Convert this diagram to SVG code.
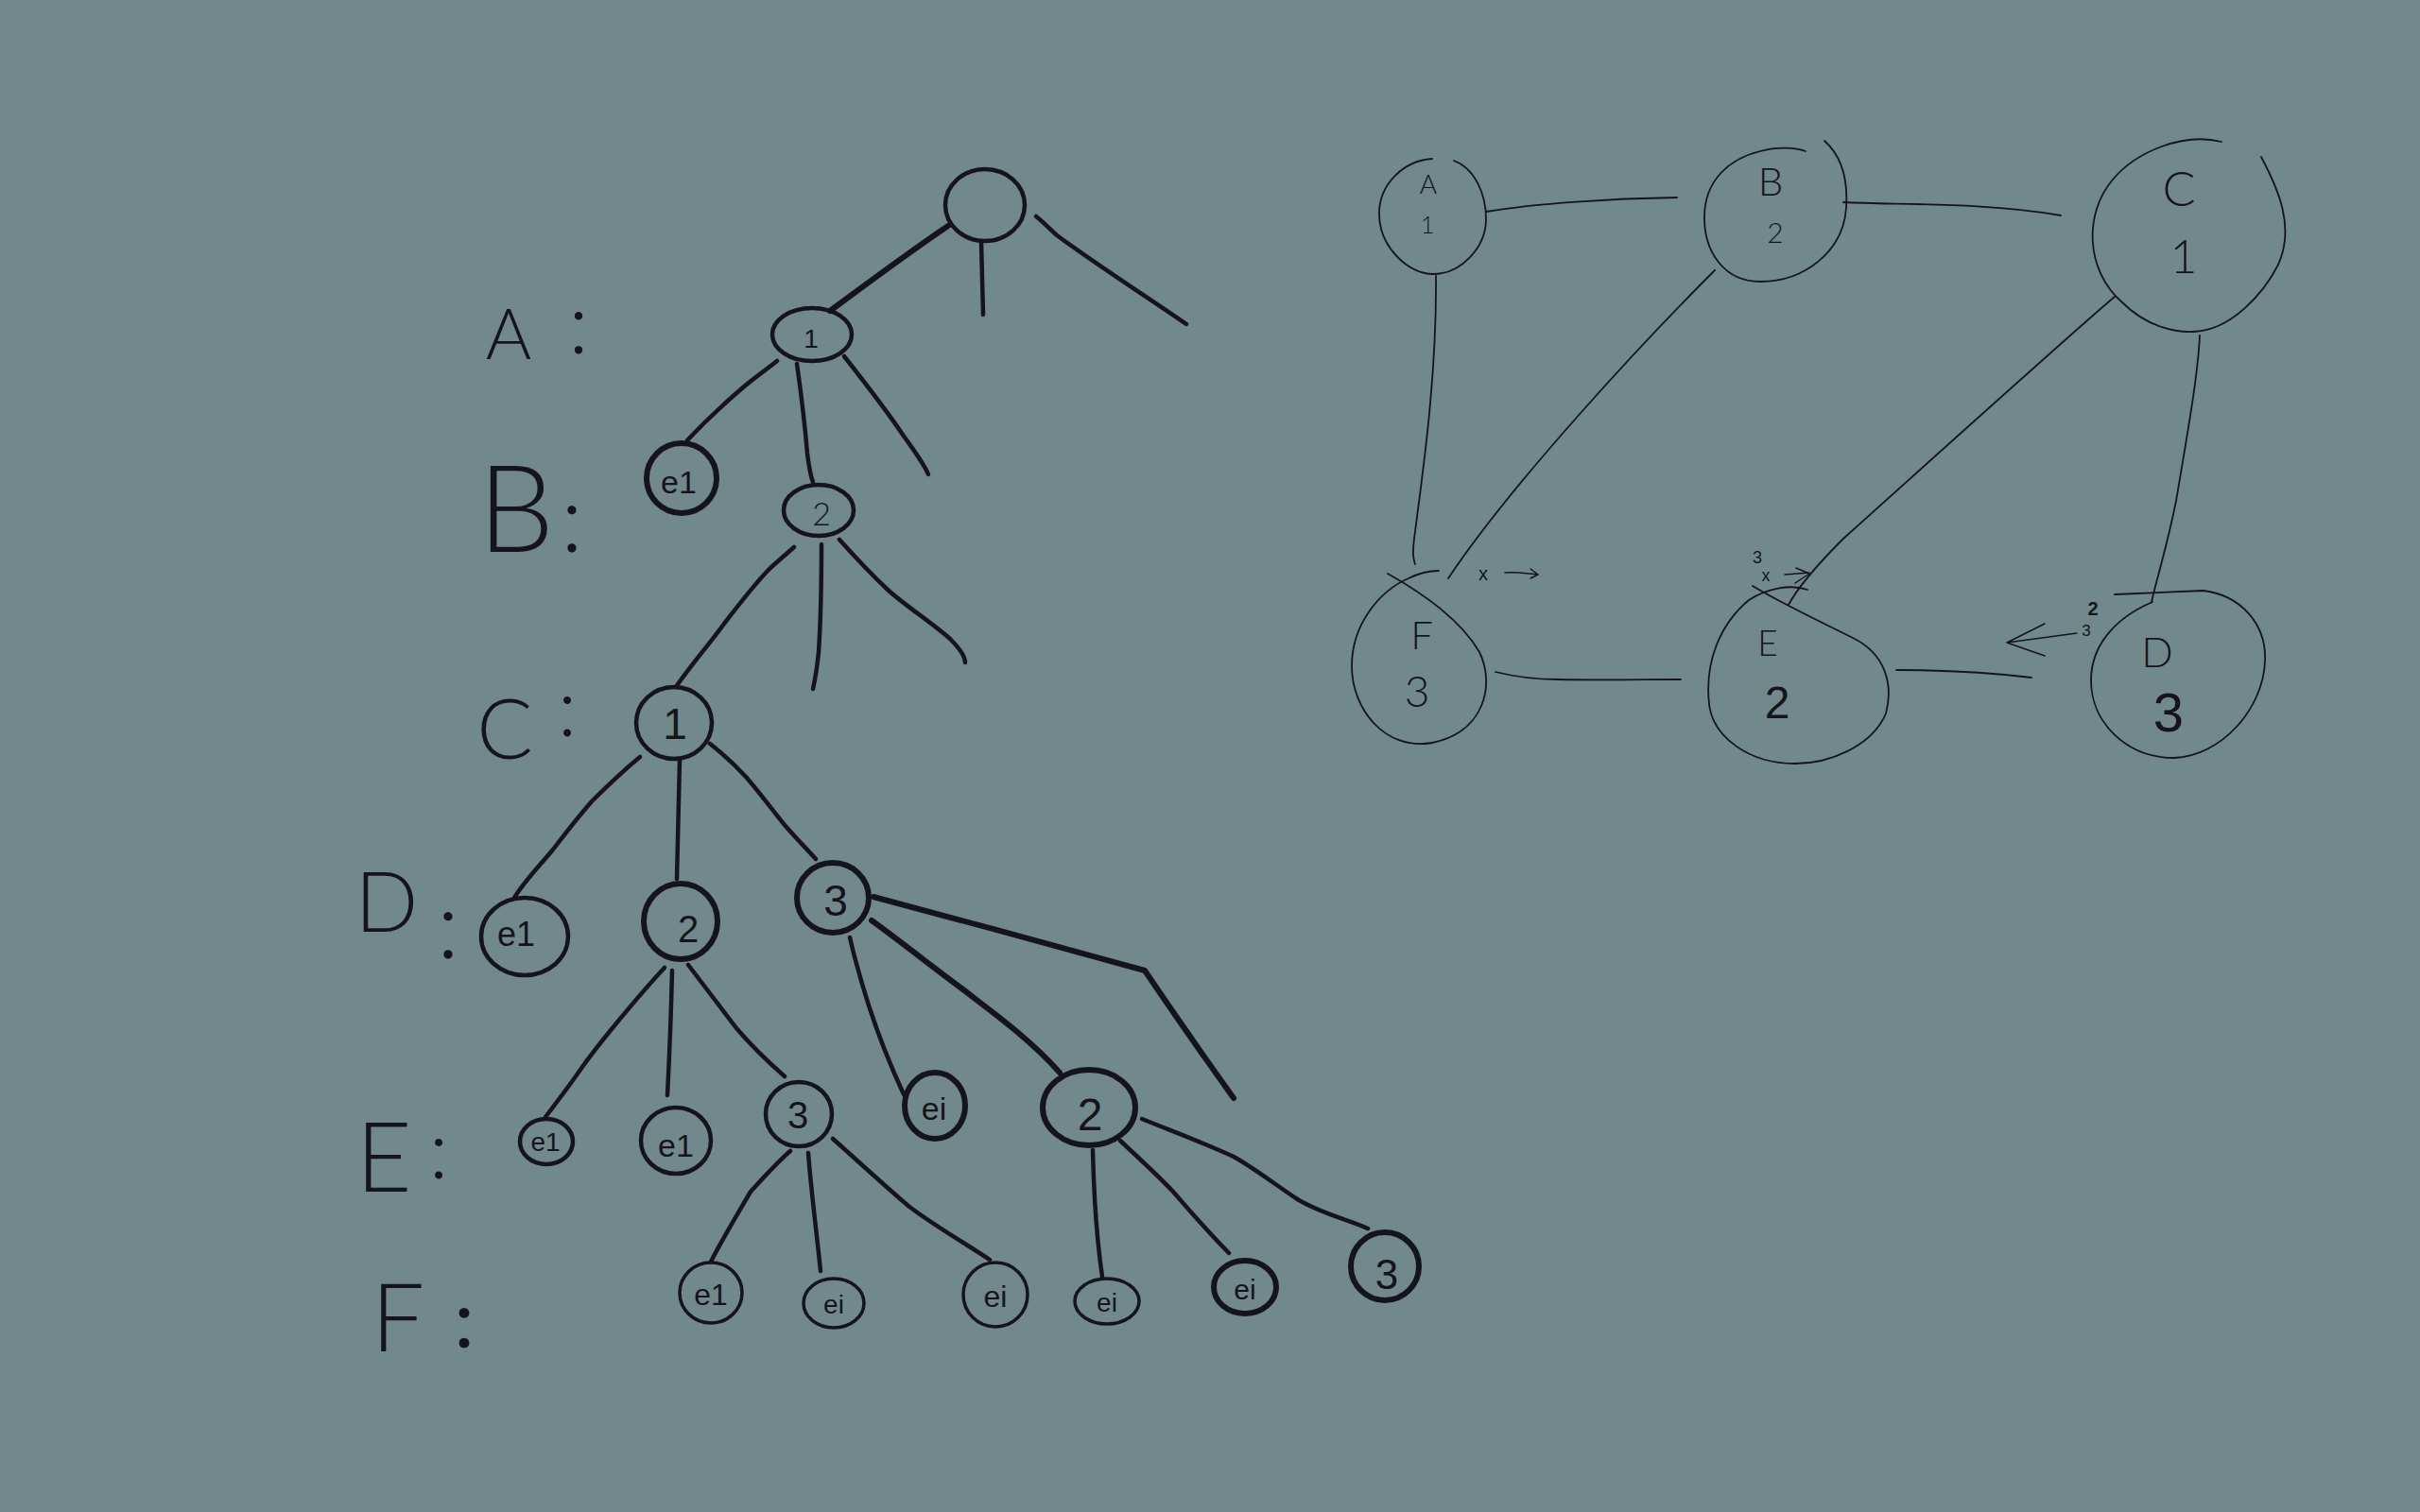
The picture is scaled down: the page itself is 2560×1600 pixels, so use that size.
<svg xmlns="http://www.w3.org/2000/svg" width="2560" height="1600" viewBox="0 0 2560 1600">
  <style>
    .ink { fill: none; stroke: #15141d; stroke-linecap: round; stroke-linejoin: round; }
    .edge { stroke-width: 4.5; }
    .edge-b { stroke-width: 6; }
    .node { stroke-width: 4.5; }
    .node-b { stroke-width: 6; }
    .node-t { stroke-width: 3.5; }
    .g-line { stroke-width: 1.8; }
    .g-node { stroke-width: 1.8; }
    .txt { font-family: "Liberation Sans", "DejaVu Sans", sans-serif; fill: #15141d; text-anchor: middle; }
    .light { font-family: "Lato", "Open Sans", "Liberation Sans", sans-serif; font-weight: 300; }
    .lvl { font-family: "Lato", "Open Sans", "Liberation Sans", sans-serif; fill: #15141d; font-weight: 300; text-anchor: middle; }
    .note { font-family: "Liberation Sans", "DejaVu Sans", sans-serif; fill: #15141d; text-anchor: middle; }
  </style>

  <rect width="2560" height="1600" fill="#71898a"/>

  <!-- ===== Search tree (left) ===== -->

  <!-- level labels -->
  <g id="levels">
    <text class="lvl" x="538" y="380" font-size="74">A<tspan x="612" y="374" font-size="90">:</tspan></text>
    <text class="lvl" x="546" y="584" font-size="128">B<tspan x="605" y="584" font-size="100">:</tspan></text>
    <text class="lvl" x="534" y="803" font-size="88">C<tspan x="600" y="779" font-size="86">:</tspan></text>
    <text class="lvl" x="409" y="986" font-size="88">D<tspan x="474" y="1014" font-size="100">:</tspan></text>
    <text class="lvl" x="406" y="1261" font-size="102">E<tspan x="464" y="1247" font-size="86">:</tspan></text>
    <text class="lvl" x="421" y="1430" font-size="100">F<tspan x="491" y="1426" font-size="86" font-weight="400">:</tspan></text>
  </g>

  <!-- tree branches -->
  <g id="tree-edges" class="ink">
    <path class="edge-b" d="M1003,239 C960,268 920,298 878,329"/>
    <path class="edge" d="M1038,255 L1040,333"/>
    <path class="edge" d="M1096,229 C1105,236 1112,244 1118,249 C1160,280 1210,312 1255,343"/>

    <path class="edge" d="M822,382 C808,393 795,402 786,410 C765,428 742,450 727,466"/>
    <path class="edge" d="M843,385 C848,420 852,456 854,480 C856,495 857,503 860,510"/>
    <path class="edge" d="M893,377 C915,405 939,436 955,460 C967,477 977,490 982,502"/>

    <path class="edge" d="M840,579 C830,588 820,596 812,604 C795,622 780,642 766,660 C750,682 730,705 715,727"/>
    <path class="edge" d="M869,576 C869,610 868,660 866,690 C864,710 862,720 860,729"/>
    <path class="edge" d="M888,571 C905,590 922,608 939,624 C960,643 985,658 1005,676 C1015,686 1021,694 1021,701"/>

    <path class="edge" d="M677,801 C660,815 642,832 626,848 C612,864 598,882 585,899 C570,917 555,932 544,950"/>
    <path class="edge" d="M719,805 L716,930"/>
    <path class="edge" d="M751,787 C765,798 778,810 789,822 C803,838 817,857 830,873 C842,887 855,900 863,909"/>

    <path class="edge" d="M703,1024 C688,1040 671,1060 656,1078 C642,1095 628,1112 616,1129 C603,1148 590,1165 577,1182"/>
    <path class="edge" d="M711,1027 C710,1070 708,1120 706,1159"/>
    <path class="edge" d="M728,1021 C745,1043 762,1066 779,1088 C796,1108 814,1125 830,1139"/>

    <path class="edge" d="M899,992 C905,1018 912,1042 919,1064 C930,1098 943,1130 956,1158"/>
    <path class="edge-b" d="M922,974 C955,998 985,1022 1016,1045 C1050,1071 1090,1100 1121,1135"/>
    <path class="edge-b" d="M924,949 C1020,975 1115,1000 1211,1027 C1240,1070 1275,1120 1305,1162"/>

    <path class="edge" d="M836,1218 C820,1232 806,1248 794,1261 C780,1285 765,1310 752,1335"/>
    <path class="edge" d="M855,1220 C858,1260 864,1305 868,1345"/>
    <path class="edge" d="M881,1205 C908,1229 935,1254 962,1277 C990,1298 1020,1315 1047,1333"/>

    <path class="edge" d="M1156,1217 C1157,1260 1160,1310 1166,1351"/>
    <path class="edge" d="M1185,1207 C1203,1224 1223,1242 1241,1261 C1260,1283 1280,1306 1300,1326"/>
    <path class="edge" d="M1208,1184 C1240,1197 1275,1210 1305,1224 C1330,1238 1352,1256 1374,1270 C1400,1285 1425,1290 1447,1300"/>
  </g>

  <!-- tree nodes -->
  <g id="t-root" class="ink"><ellipse class="node" cx="1042" cy="217" rx="42" ry="38"/></g>

  <g id="t-a1">
    <ellipse class="ink node" cx="859" cy="354" rx="42" ry="28"/>
    <text class="txt" x="858" y="368" font-size="28">1</text>
  </g>

  <g id="t-b-e1">
    <ellipse class="ink node-b" cx="721" cy="506" rx="37" ry="37"/>
    <text class="txt" x="718" y="522" font-size="34">e1</text>
  </g>
  <g id="t-b2">
    <ellipse class="ink node" cx="866" cy="540" rx="37" ry="27"/>
    <text class="txt light" x="869" y="556" font-size="34">2</text>
  </g>

  <g id="t-c1">
    <ellipse class="ink node" cx="713" cy="765" rx="40" ry="38"/>
    <text class="txt" x="714" y="782" font-size="46">1</text>
  </g>

  <g id="t-d-e1">
    <ellipse class="ink node" cx="555" cy="991" rx="46" ry="41"/>
    <text class="txt" x="546" y="1001" font-size="36">e1</text>
  </g>
  <g id="t-d2">
    <ellipse class="ink node-b" cx="720" cy="975" rx="39" ry="40"/>
    <text class="txt" x="728" y="997" font-size="40">2</text>
  </g>
  <g id="t-d3">
    <ellipse class="ink node-b" cx="881" cy="950" rx="38" ry="37"/>
    <text class="txt" x="884" y="969" font-size="46">3</text>
  </g>

  <g id="t-e-e1a">
    <ellipse class="ink node" cx="578" cy="1208" rx="28" ry="24"/>
    <text class="txt" x="577" y="1218" font-size="28">e1</text>
  </g>
  <g id="t-e-e1b">
    <ellipse class="ink node" cx="715" cy="1207" rx="37" ry="35"/>
    <text class="txt" x="715" y="1224" font-size="34">e1</text>
  </g>
  <g id="t-e3">
    <ellipse class="ink node" cx="845" cy="1179" rx="35" ry="34"/>
    <text class="txt" x="844" y="1194" font-size="40">3</text>
  </g>
  <g id="t-e-ei">
    <ellipse class="ink node-b" cx="989" cy="1170" rx="32" ry="35"/>
    <text class="txt" x="988" y="1185" font-size="34">ei</text>
  </g>
  <g id="t-e2">
    <ellipse class="ink node-b" cx="1152" cy="1172" rx="49" ry="40"/>
    <text class="txt" x="1153" y="1196" font-size="48">2</text>
  </g>

  <g id="t-f-e1">
    <ellipse class="ink node-t" cx="752" cy="1368" rx="33" ry="32"/>
    <text class="txt" x="752" y="1381" font-size="32">e1</text>
  </g>
  <g id="t-f-ei1">
    <ellipse class="ink node-t" cx="882" cy="1379" rx="32" ry="26"/>
    <text class="txt" x="882" y="1390" font-size="28">ei</text>
  </g>
  <g id="t-f-ei2">
    <ellipse class="ink node-t" cx="1053" cy="1370" rx="34" ry="34"/>
    <text class="txt" x="1053" y="1383" font-size="32">ei</text>
  </g>
  <g id="t-f-ei3">
    <ellipse class="ink node-t" cx="1171" cy="1377" rx="34" ry="24"/>
    <text class="txt" x="1171" y="1388" font-size="28">ei</text>
  </g>
  <g id="t-f-ei4">
    <ellipse class="ink node-b" cx="1317" cy="1362" rx="33" ry="28"/>
    <text class="txt" x="1317" y="1375" font-size="30">ei</text>
  </g>
  <g id="t-f-3">
    <ellipse class="ink node-b" cx="1465" cy="1340" rx="36" ry="36"/>
    <text class="txt" x="1467" y="1364" font-size="44">3</text>
  </g>

  <!-- ===== Constraint graph (right) ===== -->

  <g id="graph-edges" class="ink g-line">
    <path d="M1572,224 C1620,216 1700,210 1774,209"/>
    <path d="M1519,292 C1520,400 1505,500 1496,570 C1494,585 1495,592 1497,597"/>
    <path d="M1814,286 C1740,360 1600,510 1532,612"/>
    <path d="M1950,214 C2010,217 2100,214 2180,228"/>
    <path d="M2237,314 C2200,345 2050,480 1950,570 C1920,600 1900,625 1892,640"/>
    <path d="M2327,355 C2325,400 2312,470 2302,530 C2292,580 2282,610 2276,637"/>
    <path d="M1582,711 C1610,718 1630,719 1648,719 C1700,720 1740,719 1778,719"/>
    <path d="M2006,709 C2040,709 2100,711 2149,717"/>
  </g>

  <g id="g-A">
    <path class="ink g-node" d="M1538,170 C1560,178 1572,205 1572,232 C1572,262 1545,290 1516,290 C1490,290 1460,262 1459,228 C1458,195 1485,170 1515,168"/>
    <text class="txt light" x="1511" y="205" font-size="28">A</text>
    <text class="txt light" x="1510" y="247" font-size="25">1</text>
  </g>
  <g id="g-B">
    <path class="ink g-node" d="M1930,149 C1948,165 1955,190 1953,220 C1950,265 1910,298 1862,298 C1825,298 1803,268 1803,230 C1803,190 1830,168 1862,160 C1880,155 1900,156 1910,160"/>
    <text class="txt light" x="1873" y="207" font-size="42">B</text>
    <text class="txt light" x="1878" y="257" font-size="30">2</text>
  </g>
  <g id="g-C">
    <path class="ink g-node" d="M2350,150 C2310,140 2260,160 2235,190 C2205,225 2205,285 2245,320 C2270,345 2300,352 2320,351 C2360,350 2395,310 2410,280 C2428,240 2410,200 2392,166"/>
    <text class="txt light" x="2305" y="218" font-size="52">C</text>
    <text class="txt light" x="2310" y="289" font-size="50">1</text>
  </g>
  <g id="g-D">
    <path class="ink g-node" d="M2237,629 L2331,625 C2370,630 2398,660 2396,700 C2394,750 2350,800 2300,802 C2250,802 2212,765 2212,720 C2212,685 2235,655 2277,637"/>
    <text class="txt light" x="2282" y="706" font-size="44">D</text>
    <text class="txt" x="2294" y="774" font-size="58">3</text>
  </g>
  <g id="g-E">
    <path class="ink g-node" d="M1854,620 C1880,636 1910,650 1960,675 C1995,692 2003,725 1995,755 C1980,790 1935,808 1899,808 C1850,808 1812,780 1808,745 C1803,700 1820,660 1850,635 C1870,622 1895,618 1912,624"/>
    <text class="txt light" x="1870" y="694" font-size="37">E</text>
    <text class="txt" x="1880" y="760" font-size="48">2</text>
  </g>
  <g id="g-F">
    <path class="ink g-node" d="M1468,607 C1500,625 1545,655 1565,690 C1582,725 1570,775 1515,786 C1465,795 1430,750 1430,705 C1430,660 1460,625 1490,612 C1500,607 1512,604 1522,604"/>
    <text class="txt light" x="1504" y="687" font-size="42">F</text>
    <text class="txt light" x="1499" y="748" font-size="46">3</text>
  </g>

  <!-- small working notes beside the graph -->
  <g id="notes">
    <text class="note light" x="1569" y="614" font-size="20">x</text>
    <path class="ink" stroke-width="1.5" d="M1592,606 C1605,605 1615,607 1627,608 M1619,602 L1627,608 L1619,612"/>

    <text class="note light" x="1859" y="596" font-size="18">3</text>
    <text class="note light" x="1868" y="615" font-size="18">x</text>
    <path class="ink" stroke-width="1.5" d="M1888,608 L1914,606 M1900,601 L1914,607 L1899,617"/>

    <text class="note" x="2214" y="651" font-size="20" font-weight="bold">2</text>
    <text class="note light" x="2207" y="673" font-size="17">3</text>
    <path class="ink" stroke-width="1.5" d="M2197,670 L2123,680 M2163,660 L2123,680 L2163,694"/>
  </g>
</svg>
